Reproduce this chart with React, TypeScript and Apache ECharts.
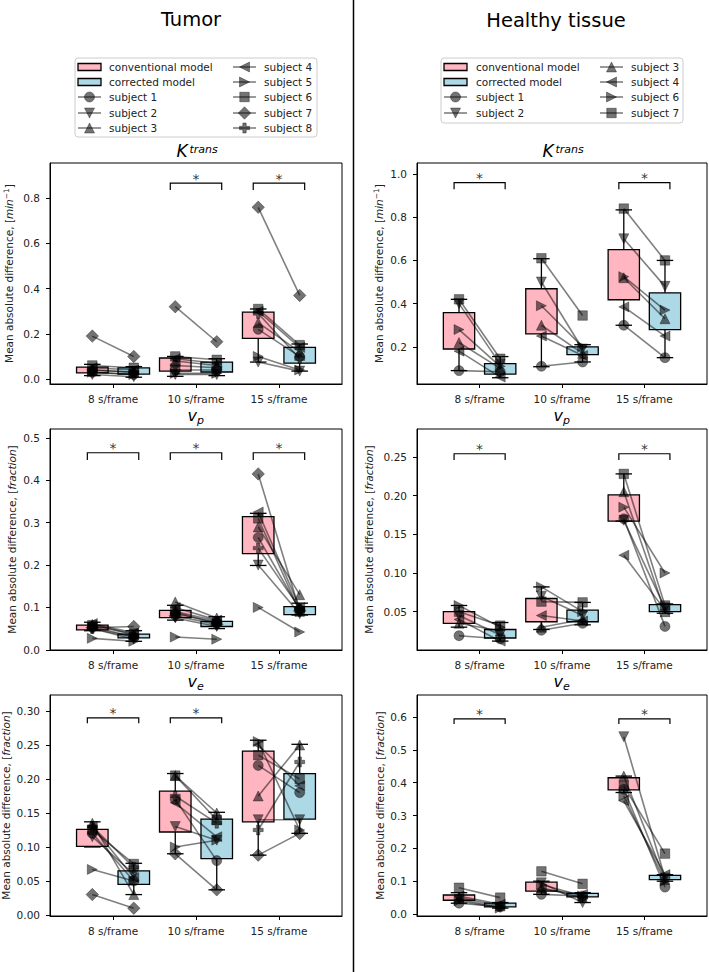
import React, { useEffect, useRef } from "react";
import * as echarts from "echarts";

const frames = ["8 s/frame", "10 s/frame", "15 s/frame"];
const tumorSubjects = ["subject 1", "subject 2", "subject 3", "subject 4", "subject 5", "subject 6", "subject 7", "subject 8"];
const tumorMarkers = ["circle", "down", "up", "left", "right", "square", "diamond", "plus"];
const healthySubjects = ["subject 1", "subject 2", "subject 3", "subject 4", "subject 6", "subject 7"];
const healthyMarkers = ["circle", "down", "up", "left", "right", "square"];

// rows = subjects, columns = 8 / 10 / 15 s/frame
const tumorKtransConv = [
  [0.03, 0.04, 0.22], [0.02, 0.02, 0.075], [0.04, 0.08, 0.25], [0.05, 0.09, 0.30],
  [0.03, 0.025, 0.10], [0.06, 0.10, 0.31], [0.19, 0.32, 0.76], [0.04, 0.06, 0.29],
];
const tumorKtransCorr = [
  [0.02, 0.04, 0.10], [0.01, 0.02, 0.035], [0.03, 0.06, 0.12], [0.04, 0.07, 0.14],
  [0.02, 0.025, 0.04], [0.05, 0.085, 0.15], [0.10, 0.165, 0.37], [0.03, 0.05, 0.09],
];
const tumorVpConv = [
  [0.055, 0.085, 0.265], [0.05, 0.075, 0.20], [0.06, 0.113, 0.29], [0.062, 0.10, 0.325],
  [0.027, 0.03, 0.10], [0.058, 0.09, 0.31], [0.052, 0.08, 0.415], [0.05, 0.088, 0.24],
];
const tumorVpCorr = [
  [0.03, 0.065, 0.095], [0.025, 0.055, 0.085], [0.035, 0.075, 0.13], [0.04, 0.07, 0.10],
  [0.02, 0.025, 0.042], [0.038, 0.068, 0.09], [0.055, 0.06, 0.092], [0.03, 0.062, 0.098],
];
const tumorVeConv = [
  [0.12, 0.17, 0.22], [0.115, 0.13, 0.14], [0.135, 0.205, 0.175], [0.13, 0.165, 0.25],
  [0.067, 0.10, 0.255], [0.125, 0.205, 0.235], [0.03, 0.09, 0.088], [0.13, 0.175, 0.125],
];
const tumorVeCorr = [
  [0.05, 0.08, 0.18], [0.06, 0.11, 0.14], [0.03, 0.15, 0.25], [0.055, 0.115, 0.19],
  [0.05, 0.11, 0.125], [0.075, 0.14, 0.20], [0.01, 0.037, 0.12], [0.07, 0.135, 0.225],
];
const healthyKtransConv = [
  [0.09, 0.11, 0.30], [0.40, 0.50, 0.70], [0.22, 0.30, 0.52],
  [0.18, 0.25, 0.385], [0.28, 0.39, 0.525], [0.42, 0.61, 0.84],
];
const healthyKtransCorr = [
  [0.085, 0.13, 0.15], [0.12, 0.19, 0.48], [0.10, 0.17, 0.33],
  [0.06, 0.16, 0.25], [0.11, 0.20, 0.37], [0.145, 0.345, 0.60],
];
const healthyVpConv = [
  [0.019, 0.026, 0.17], [0.045, 0.07, 0.168], [0.035, 0.03, 0.205],
  [0.04, 0.045, 0.123], [0.058, 0.082, 0.185], [0.05, 0.063, 0.228],
];
const healthyVpCorr = [
  [0.015, 0.035, 0.031], [0.02, 0.045, 0.055], [0.025, 0.04, 0.05],
  [0.012, 0.038, 0.052], [0.03, 0.05, 0.10], [0.032, 0.062, 0.058],
];
const healthyVeConv = [
  [0.033, 0.06, 0.38], [0.045, 0.095, 0.54], [0.05, 0.08, 0.42],
  [0.055, 0.075, 0.345], [0.04, 0.09, 0.36], [0.08, 0.13, 0.39],
];
const healthyVeCorr = [
  [0.022, 0.055, 0.082], [0.02, 0.035, 0.11], [0.025, 0.05, 0.105],
  [0.03, 0.06, 0.12], [0.018, 0.055, 0.10], [0.05, 0.092, 0.184],
];

// box statistics per frame: [lower whisker, Q1, Q3, upper whisker]
const tumorKtransConvBox = [[0.015, 0.027, 0.053, 0.065], [0.012, 0.035, 0.093, 0.10], [0.075, 0.18, 0.296, 0.31]];
const tumorKtransCorrBox = [[0.008, 0.022, 0.049, 0.055], [0.015, 0.031, 0.075, 0.09], [0.035, 0.07, 0.14, 0.155]];
const tumorVpConvBox = [[0.045, 0.047, 0.058, 0.065], [0.07, 0.076, 0.093, 0.105], [0.199, 0.227, 0.314, 0.322]];
const tumorVpCorrBox = [[0.02, 0.028, 0.037, 0.045], [0.05, 0.055, 0.067, 0.078], [0.082, 0.083, 0.102, 0.11]];
const tumorVeConvBox = [[0.10, 0.101, 0.126, 0.137], [0.09, 0.122, 0.182, 0.208], [0.088, 0.137, 0.241, 0.257]];
const tumorVeCorrBox = [[0.03, 0.045, 0.065, 0.076], [0.037, 0.083, 0.141, 0.151], [0.12, 0.141, 0.208, 0.251]];
const healthyKtransConvBox = [[0.09, 0.19, 0.358, 0.42], [0.108, 0.26, 0.469, 0.608], [0.30, 0.418, 0.65, 0.834]];
const healthyKtransCorrBox = [[0.057, 0.074, 0.122, 0.155], [0.13, 0.164, 0.20, 0.21], [0.15, 0.28, 0.45, 0.60]];
const healthyVpConvBox = [[0.03, 0.035, 0.05, 0.058], [0.027, 0.037, 0.067, 0.082], [0.167, 0.167, 0.201, 0.228]];
const healthyVpCorrBox = [[0.012, 0.016, 0.027, 0.036], [0.033, 0.037, 0.052, 0.062], [0.048, 0.05, 0.059, 0.06]];
const healthyVeConvBox = [[0.033, 0.042, 0.058, 0.065], [0.06, 0.07, 0.097, 0.10], [0.37, 0.378, 0.415, 0.42]];
const healthyVeCorrBox = [[0.018, 0.022, 0.033, 0.035], [0.035, 0.052, 0.063, 0.065], [0.10, 0.105, 0.118, 0.12]];

// y tick labels
const tumorKtransTicks = [0, 0.2, 0.4, 0.6, 0.8];
const tumorVpTicks = [0, 0.1, 0.2, 0.3, 0.4, 0.5];
const tumorVeTicks = [0, 0.05, 0.1, 0.15, 0.2, 0.25, 0.3];
const healthyKtransTicks = [0.2, 0.4, 0.6, 0.8, 1.0];
const healthyVpTicks = [0.05, 0.1, 0.15, 0.2, 0.25];
const healthyVeTicks = [0, 0.1, 0.2, 0.3, 0.4, 0.5, 0.6];

// frames with a significant difference (*)
const tumorKtransSig = [1, 2];
const tumorVpSig = [0, 1, 2];
const tumorVeSig = [0, 1];
const healthyKtransSig = [0, 2];
const healthyVpSig = [0, 2];
const healthyVeSig = [0, 2];

const FONT = "'DejaVu Sans', sans-serif";
const PINK = "#FFB6C1";
const BLUE = "#ADD8E6";
const MARK = "rgba(0,0,0,0.55)";
const MARK_EDGE = "rgba(0,0,0,0.35)";
const LINE = "rgba(0,0,0,0.5)";
const TXT = "#222";

const SYMBOLS: Record<string, { symbol: string; size: any }> = {
  circle: { symbol: "circle", size: 10 },
  down: { symbol: "path://M0,0L10,0L5,9Z", size: [10, 10] },
  up: { symbol: "triangle", size: [10, 10] },
  left: { symbol: "path://M0,5L9,0L9,10Z", size: [10, 10] },
  right: { symbol: "path://M0,0L9,5L0,10Z", size: [10, 10] },
  square: { symbol: "rect", size: 9.5 },
  diamond: { symbol: "diamond", size: 12.5 },
  plus: { symbol: "path://M3.3,0H6.7V3.3H10V6.7H6.7V10H3.3V6.7H0V3.3H3.3Z", size: 10 },
};

const panels = [
  { conv: tumorKtransConv, corr: tumorKtransCorr, convBox: tumorKtransConvBox, corrBox: tumorKtransCorrBox, ticks: tumorKtransTicks, dec: 1, yMin: -0.022, yMax: 0.956, sig: tumorKtransSig, bracket: [0.867, 0.836], names: tumorSubjects, markers: tumorMarkers, left: 50, width: 292, top: 163, title: "K", unit: "min", ylx: 9 },
  { conv: tumorVpConv, corr: tumorVpCorr, convBox: tumorVpConvBox, corrBox: tumorVpCorrBox, ticks: tumorVpTicks, dec: 1, yMin: -0.0005, yMax: 0.521, sig: tumorVpSig, bracket: [0.465, 0.448], names: tumorSubjects, markers: tumorMarkers, left: 50, width: 292, top: 429, title: "p", unit: "fraction", ylx: 12 },
  { conv: tumorVeConv, corr: tumorVeCorr, convBox: tumorVeConvBox, corrBox: tumorVeCorrBox, ticks: tumorVeTicks, dec: 2, yMin: -0.0015, yMax: 0.3235, sig: tumorVeSig, bracket: [0.29, 0.282], names: tumorSubjects, markers: tumorMarkers, left: 50, width: 292, top: 695, title: "e", unit: "fraction", ylx: 6 },
  { conv: healthyKtransConv, corr: healthyKtransCorr, convBox: healthyKtransConvBox, corrBox: healthyKtransCorrBox, ticks: healthyKtransTicks, dec: 1, yMin: 0.028, yMax: 1.051, sig: healthyKtransSig, bracket: [0.96, 0.93], names: healthySubjects, markers: healthyMarkers, left: 417, width: 290, top: 163, title: "K", unit: "min", ylx: 379 },
  { conv: healthyVpConv, corr: healthyVpCorr, convBox: healthyVpConvBox, corrBox: healthyVpCorrBox, ticks: healthyVpTicks, dec: 2, yMin: 0.0005, yMax: 0.286, sig: healthyVpSig, bracket: [0.254, 0.246], names: healthySubjects, markers: healthyMarkers, left: 417, width: 290, top: 429, title: "p", unit: "fraction", ylx: 369 },
  { conv: healthyVeConv, corr: healthyVeCorr, convBox: healthyVeConvBox, corrBox: healthyVeCorrBox, ticks: healthyVeTicks, dec: 1, yMin: -0.006, yMax: 0.667, sig: healthyVeSig, bracket: [0.594, 0.579], names: healthySubjects, markers: healthyMarkers, left: 417, width: 290, top: 695, title: "e", unit: "fraction", ylx: 380 },
];
const PANEL_H = 221;

function boxRender(fill: string) {
  return (params: any, api: any) => {
    const x = api.value(0);
    const a = api.coord([x - 0.19, api.value(3)]);
    const b = api.coord([x + 0.19, api.value(2)]);
    return {
      type: "rect",
      shape: { x: a[0], y: a[1], width: b[0] - a[0], height: b[1] - a[1] },
      style: { fill, stroke: "#000", lineWidth: 1.3 },
    };
  };
}

function whiskerRender(params: any, api: any) {
  const x = api.value(0);
  const lo = api.coord([x, api.value(1)]);
  const q1 = api.coord([x, api.value(2)]);
  const q3 = api.coord([x, api.value(3)]);
  const hi = api.coord([x, api.value(4)]);
  const cw = api.coord([x + 0.1, 0])[0] - api.coord([x, 0])[0];
  const st = { stroke: "#000", lineWidth: 1.3 };
  return {
    type: "group",
    children: [
      { type: "line", shape: { x1: q3[0], y1: q3[1], x2: hi[0], y2: hi[1] }, style: st },
      { type: "line", shape: { x1: q1[0], y1: q1[1], x2: lo[0], y2: lo[1] }, style: st },
      { type: "line", shape: { x1: hi[0] - cw, y1: hi[1], x2: hi[0] + cw, y2: hi[1] }, style: st },
      { type: "line", shape: { x1: lo[0] - cw, y1: lo[1], x2: lo[0] + cw, y2: lo[1] }, style: st },
    ],
  };
}

function bracketRender(params: any, api: any) {
  const f = api.value(0);
  const top = api.value(1);
  const leg = api.value(2);
  const a = api.coord([f - 0.31, leg]);
  const b = api.coord([f - 0.31, top]);
  const c = api.coord([f + 0.31, top]);
  const d = api.coord([f + 0.31, leg]);
  return { type: "polyline", shape: { points: [a, b, c, d] }, style: { stroke: "#000", lineWidth: 1.2, fill: "none" } };
}

function markerEl(kind: string, cx: number, cy: number) {
  const style = { fill: MARK, stroke: MARK_EDGE, lineWidth: 1 };
  const poly = (pts: number[][]) => ({ type: "polygon", shape: { points: pts }, style });
  const r = 5;
  switch (kind) {
    case "circle":
      return { type: "circle", shape: { cx, cy, r }, style };
    case "square":
      return { type: "rect", shape: { x: cx - 4.75, y: cy - 4.75, width: 9.5, height: 9.5 }, style };
    case "diamond":
      return poly([[cx, cy - 6.25], [cx + 6.25, cy], [cx, cy + 6.25], [cx - 6.25, cy]]);
    case "up":
      return poly([[cx, cy - r], [cx + r, cy + r], [cx - r, cy + r]]);
    case "down":
      return poly([[cx - r, cy - r], [cx + r, cy - r], [cx, cy + r]]);
    case "left":
      return poly([[cx - r, cy], [cx + r, cy - r], [cx + r, cy + r]]);
    case "right":
      return poly([[cx - r, cy - r], [cx + r, cy], [cx - r, cy + r]]);
    default: {
      const a = 1.7;
      return poly([
        [cx - a, cy - r], [cx + a, cy - r], [cx + a, cy - a], [cx + r, cy - a], [cx + r, cy + a], [cx + a, cy + a],
        [cx + a, cy + r], [cx - a, cy + r], [cx - a, cy + a], [cx - r, cy + a], [cx - r, cy - a], [cx - a, cy - a],
      ]);
    }
  }
}

function legend(box: number[], rows: number[], cols: { icon: number; text: number }[], items: { label: string; kind: string }[]) {
  const els: any[] = [];
  els.push({
    type: "rect",
    shape: { x: box[0], y: box[1], width: box[2], height: box[3], r: 3 },
    style: { fill: "rgba(255,255,255,0.8)", stroke: "#cccccc", lineWidth: 1 },
  });
  items.forEach((it, i) => {
    const col = cols[Math.floor(i / rows.length)];
    const y = rows[i % rows.length];
    const x1 = col.icon;
    const x2 = col.icon + 23;
    if (it.kind === "pink" || it.kind === "blue") {
      els.push({
        type: "rect",
        shape: { x: x1, y: y - 3.5, width: 23, height: 7 },
        style: { fill: it.kind === "pink" ? PINK : BLUE, stroke: "#000", lineWidth: 1.3 },
      });
    } else {
      els.push({ type: "line", shape: { x1, y1: y, x2, y2: y }, style: { stroke: LINE, lineWidth: 1.6 } });
      els.push(markerEl(it.kind, (x1 + x2) / 2, y));
    }
    els.push({
      type: "text",
      x: col.text,
      y,
      style: { text: it.label, fontSize: 10.5, fontFamily: FONT, fill: TXT, align: "left", verticalAlign: "middle" },
    });
  });
  return els;
}

export default function App() {
  const ref = useRef<HTMLDivElement>(null);
  useEffect(() => {
    if (!ref.current) return;
    const chart = echarts.init(ref.current, undefined, { renderer: "svg" });

    const grid: any[] = [];
    const xAxis: any[] = [];
    const yAxis: any[] = [];
    const series: any[] = [];
    const graphic: any[] = [];

    panels.forEach((pn, p) => {
      grid.push({
        left: pn.left, top: pn.top, width: pn.width, height: PANEL_H,
        show: true, borderColor: "#000", borderWidth: 1, backgroundColor: "transparent",
      });
      xAxis.push({
        type: "value", gridIndex: p, min: -0.76, max: 2.76,
        axisLine: { show: true, onZero: false, lineStyle: { color: "#000", width: 1 } },
        axisTick: { show: true, customValues: [0, 1, 2], length: 4, lineStyle: { color: "#000" } },
        axisLabel: {
          customValues: [0, 1, 2], formatter: (v: number) => frames[Math.round(v)],
          fontSize: 10.5, fontFamily: FONT, color: TXT, margin: 9,
        },
        splitLine: { show: false },
      });
      yAxis.push({
        type: "value", gridIndex: p, min: pn.yMin, max: pn.yMax,
        axisLine: { show: true, onZero: false, lineStyle: { color: "#000", width: 1 } },
        axisTick: { show: true, customValues: pn.ticks, length: 4, lineStyle: { color: "#000" } },
        axisLabel: {
          customValues: pn.ticks, formatter: (v: number) => v.toFixed(pn.dec),
          fontSize: 10.5, fontFamily: FONT, color: TXT, margin: 10,
        },
        splitLine: { show: false },
      });

      const common = { xAxisIndex: p, yAxisIndex: p, silent: true, animation: false };
      series.push({
        ...common, type: "custom", name: "conventional model", z: 2, itemStyle: { color: PINK },
        renderItem: boxRender(PINK), encode: { x: 0, y: [1, 2, 3, 4] },
        data: pn.convBox.map((b, f) => [f - 0.25, ...b]),
      });
      series.push({
        ...common, type: "custom", name: "corrected model", z: 2, itemStyle: { color: BLUE },
        renderItem: boxRender(BLUE), encode: { x: 0, y: [1, 2, 3, 4] },
        data: pn.corrBox.map((b, f) => [f + 0.25, ...b]),
      });
      pn.names.forEach((nm, s) => {
        const sym = SYMBOLS[pn.markers[s]];
        for (let f = 0; f < 3; f++) {
          series.push({
            ...common, type: "line", name: nm, z: 3,
            data: [[f - 0.25, pn.conv[s][f]], [f + 0.25, pn.corr[s][f]]],
            symbol: sym.symbol, symbolSize: sym.size, showSymbol: true,
            itemStyle: { color: MARK, borderColor: MARK_EDGE, borderWidth: 1 },
            lineStyle: { color: LINE, width: 1.6 },
            emphasis: { disabled: true },
          });
        }
      });
      series.push({
        ...common, type: "custom", z: 4, itemStyle: { color: "#000" }, renderItem: whiskerRender, encode: { x: 0, y: [1, 2, 3, 4] },
        data: [...pn.convBox.map((b, f) => [f - 0.25, ...b]), ...pn.corrBox.map((b, f) => [f + 0.25, ...b])],
      });
      series.push({
        ...common, type: "custom", z: 5, itemStyle: { color: "#000" }, renderItem: bracketRender, encode: { x: 0, y: [1, 2] },
        data: pn.sig.map((f) => [f, pn.bracket[0], pn.bracket[1]]),
      });
      // significance stars
      series.push({
        ...common, type: "scatter", z: 5, symbol: "circle", symbolSize: 1,
        itemStyle: { color: "rgba(0,0,0,0)" },
        label: {
          show: true, position: "top", distance: 0, offset: [0, 3], formatter: "*",
          color: "#000", fontSize: 14, fontFamily: FONT,
        },
        emphasis: { disabled: true },
        data: pn.sig.map((f) => [f, pn.bracket[0]]),
      });

      // panel title
      const cx = pn.left + pn.width / 2;
      if (pn.title === "K") {
        graphic.push({ type: "text", x: cx - 19.5, y: pn.top - 12, style: { text: "K", fontSize: 17, fontStyle: "italic", fontFamily: FONT, fill: "#000", align: "left", verticalAlign: "middle" } });
        graphic.push({ type: "text", x: cx - 6.5, y: pn.top - 14, style: { text: "trans", fontSize: 11, fontStyle: "italic", fontFamily: FONT, fill: "#000", align: "left", verticalAlign: "middle" } });
      } else {
        graphic.push({ type: "text", x: cx + 1, y: pn.top - 13.5, style: { text: "v", fontSize: 16, fontStyle: "italic", fontFamily: FONT, fill: "#000", align: "right", verticalAlign: "middle" } });
        graphic.push({ type: "text", x: cx + 1, y: pn.top - 8.5, style: { text: pn.title, fontSize: 11, fontStyle: "italic", fontFamily: FONT, fill: "#000", align: "left", verticalAlign: "middle" } });
      }
      // y axis label
      const ytext = pn.unit === "min"
        ? "{n|Mean absolute difference, [}{i|min}{s|−1}{n|]}"
        : "{n|Mean absolute difference, [}{i|fraction}{n|]}";
      graphic.push({
        type: "text", x: pn.ylx, y: pn.top + PANEL_H / 2, rotation: Math.PI / 2,
        style: {
          text: ytext, align: "center", verticalAlign: "middle", fill: TXT, fontFamily: FONT, fontSize: 10.5,
          rich: {
            n: { fontSize: 10.5, fontFamily: FONT, fill: TXT, lineHeight: 13 },
            i: { fontSize: 10.5, fontFamily: FONT, fontStyle: "italic", fill: TXT, lineHeight: 13 },
            s: { fontSize: 7.5, fontFamily: FONT, fill: TXT, lineHeight: 8, verticalAlign: "top" },
          },
        },
      });
    });

    // column titles
    graphic.push({ type: "text", x: 191, y: 19.5, style: { text: "Tumor", fontSize: 19.5, fontFamily: FONT, fill: "#000", align: "center", verticalAlign: "middle" } });
    graphic.push({ type: "text", x: 556, y: 20, style: { text: "Healthy tissue", fontSize: 19.5, fontFamily: FONT, fill: "#000", align: "center", verticalAlign: "middle" } });
    // divider
    graphic.push({ type: "line", shape: { x1: 353.5, y1: 0, x2: 353.5, y2: 972 }, style: { stroke: "#000", lineWidth: 1.5 } });

    // legends
    const tumorItems = [
      { label: "conventional model", kind: "pink" },
      { label: "corrected model", kind: "blue" },
      ...tumorSubjects.map((s, i) => ({ label: s, kind: tumorMarkers[i] })),
    ];
    const healthyItems = [
      { label: "conventional model", kind: "pink" },
      { label: "corrected model", kind: "blue" },
      ...healthySubjects.map((s, i) => ({ label: s, kind: healthyMarkers[i] })),
    ];
    graphic.push(...legend([75, 58, 242, 79], [67, 82, 97, 113, 128], [{ icon: 78, text: 109 }, { icon: 233, text: 264 }], tumorItems));
    graphic.push(...legend([441, 58, 242, 65], [67, 82, 97, 113], [{ icon: 444, text: 476 }, { icon: 600, text: 631 }], healthyItems));

    chart.setOption({
      animation: false,
      backgroundColor: "#fff",
      grid, xAxis, yAxis, series,
      graphic: graphic.map((g) => ({ ...g, silent: true })),
    });
    return () => chart.dispose();
  }, []);
  return <div ref={ref} style={{ position: "fixed", left: 0, top: 0, width: 709, height: 972 }} />;
}
